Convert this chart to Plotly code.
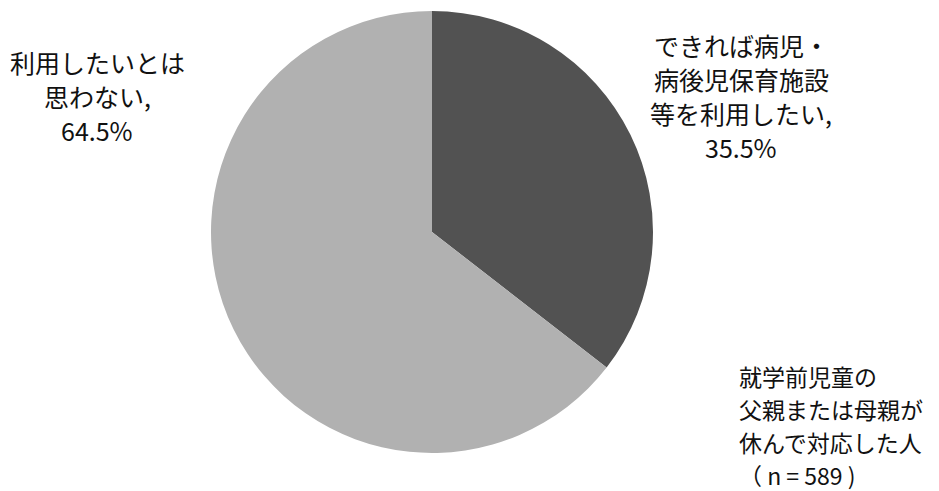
import plotly.graph_objects as go

# Survey responses
categories = ["できれば病児・病後児保育施設等を利用したい", "利用したいとは思わない"]
shares = [35.5, 64.5]
slice_colors = ["#525252", "#b1b1b1"]

# Label text lines (the last line of each label carries the share)
label_lines = [
    ["できれば病児・", "病後児保育施設", "等を利用したい,"],
    ["利用したいとは", "思わない,"],
]
note_lines = ["就学前児童の", "父親または母親が", "休んで対応した人", "（ n = 589 )"]

W, H = 939, 491
FONT = "Noto Sans CJK JP, Noto Sans, sans-serif"

cx, cy, r = 432, 232, 221

fig = go.Figure(
    go.Pie(
        labels=categories,
        values=shares,
        sort=False,
        direction="clockwise",
        rotation=0,
        marker=dict(colors=slice_colors, line=dict(width=0)),
        textinfo="none",
        hoverinfo="label+percent",
        showlegend=False,
        domain=dict(
            x=[(cx - r) / W, (cx + r) / W],
            y=[(H - cy - r) / H, (H - cy + r) / H],
        ),
    )
)


def add_lines(lines, x_px, y0_px, step, align, size):
    for i, line in enumerate(lines):
        fig.add_annotation(
            x=x_px / W,
            y=1 - (y0_px + i * step) / H,
            xref="paper",
            yref="paper",
            text=line,
            showarrow=False,
            xanchor=align,
            yanchor="middle",
            font=dict(family=FONT, size=size, color="#111111"),
        )


add_lines(label_lines[0] + [f"{shares[0]:.1f}%"], 741, 45, 34, "center", 25)
add_lines(label_lines[1] + [f"{shares[1]:.1f}%"], 97, 62, 34, "center", 25)
add_lines(note_lines, 737, 376, 33, "left", 23)

fig.update_layout(
    width=W,
    height=H,
    margin=dict(l=0, r=0, t=0, b=0),
    paper_bgcolor="white",
    plot_bgcolor="white",
)

fig.write_html("out.html")
